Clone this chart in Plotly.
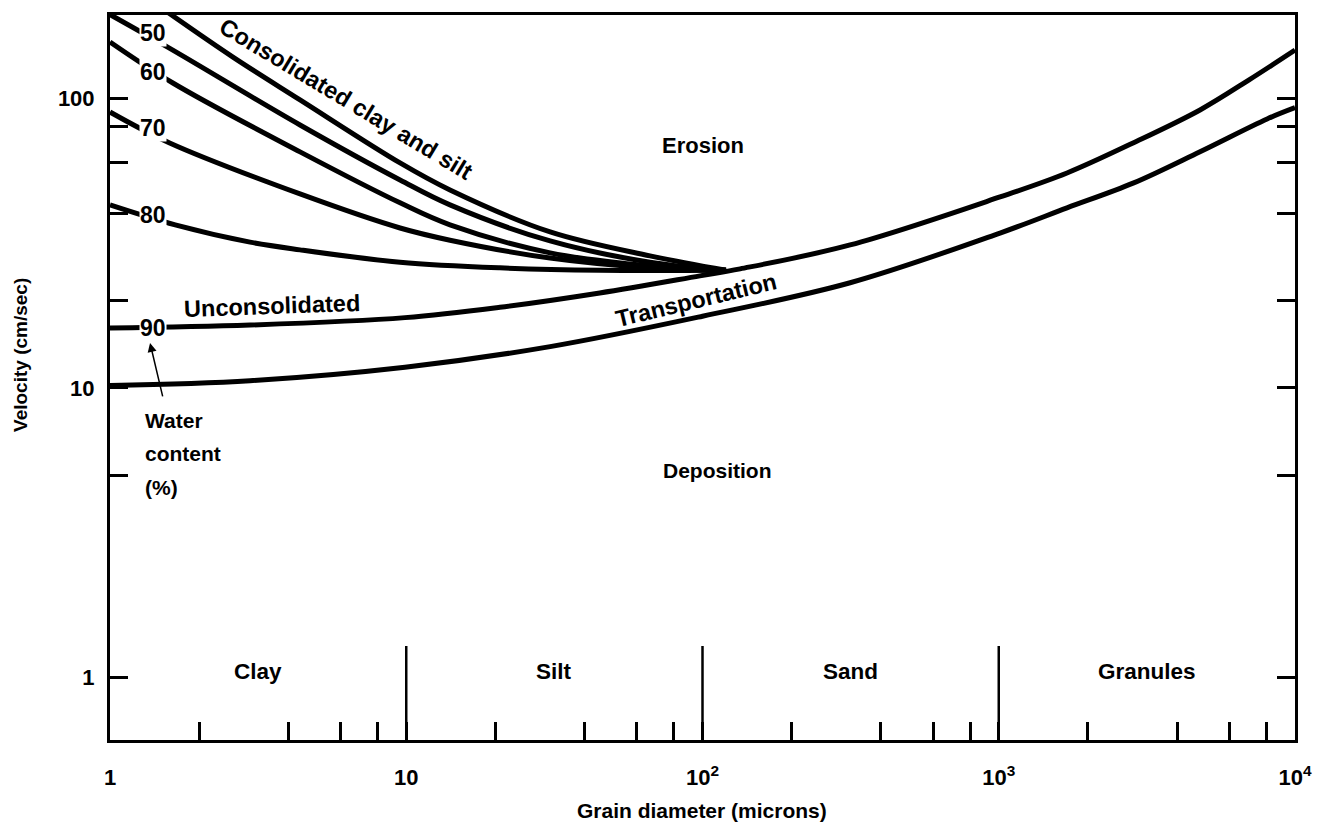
import numpy as np
import plotly.graph_objects as go

# ---------------- data (grain diameter in microns, velocity in cm/sec) ----------------
dep_x = [1, 2.97, 9.9, 30.6, 100, 315, 1010, 1700, 2840, 4780, 8050, 10000]
dep_v = [10.2, 10.6, 11.8, 13.9, 17.7, 23.1, 34.3, 41.9, 51.0, 65.5, 85.0, 93.0]

unc_x = [1, 2.97, 9.9, 20.7, 45, 98, 134, 315, 1010, 1700, 2840, 4780, 7000, 10000]
unc_v = [16.1, 16.5, 17.5, 19.0, 21.3, 24.4, 25.8, 31.2, 45.7, 55.3, 70.2, 91.3, 116, 147]

w80_x = [1, 1.66, 2.97, 4.38, 9.53, 20.7, 45, 120]
w80_v = [42.9, 36.6, 31.9, 30.0, 27.2, 26.0, 25.5, 25.5]

w70_x = [1, 1.59, 4.38, 9.53, 14.05, 30.6, 66.5, 120]
w70_v = [89.8, 70.2, 46.8, 35.7, 32.4, 28.1, 26.0, 25.5]

w60_x = [1, 1.63, 4.38, 9.53, 14.05, 30.6, 66.5, 120]
w60_v = [156.7, 113.1, 65.4, 43.6, 36.6, 29.3, 26.4, 25.5]

w50_x = [1, 1.56, 4.38, 9.53, 14.05, 30.6, 66.5, 120]
w50_v = [195, 150.7, 81.0, 52.3, 42.9, 32.2, 27.2, 25.5]

cons_x = [1.55, 2.6, 4.38, 9.53, 14.05, 30.6, 66.5, 120]
cons_v = [200, 139, 98.9, 59.9, 48.3, 34.6, 28.6, 25.5]

water_labels = ["50", "60", "70", "80", "90"]
water_label_v = [168, 123.5, 79, 39.6, 16.1]

class_edges = [1, 10, 100, 1000, 10000]
class_names = ["Clay", "Silt", "Sand", "Granules"]

x_major_vals = [1, 10, 100, 1000, 10000]
x_major_text = ["1", "10", "10<sup>2</sup>", "10<sup>3</sup>", "10<sup>4</sup>"]
x_minor_vals = [2, 4, 6, 8, 20, 40, 60, 80, 200, 400, 600, 800, 2000, 4000, 6000, 8000]
y_major_vals = [1, 10, 100]
y_major_text = ["1", "10", "100"]
y_minor_vals = [5, 20, 40, 60, 80]

# ---------------- figure ----------------
Y_LOG_RANGE = [-0.2159, 2.2884]
FONT = "Liberation Sans"
LW = 5


def f(size):
    return dict(size=size, family=FONT, color="black", weight="bold")


fig = go.Figure()
for xs, vs in [(dep_x, dep_v), (unc_x, unc_v), (w80_x, w80_v), (w70_x, w70_v),
               (w60_x, w60_v), (w50_x, w50_v), (cons_x, cons_v)]:
    fig.add_trace(go.Scatter(x=xs, y=vs, mode="lines",
                             line=dict(color="black", width=LW, shape="spline", smoothing=1.0),
                             showlegend=False, hoverinfo="skip"))

# grain-size class boundaries
y_bottom = 10 ** Y_LOG_RANGE[0]
for b in class_edges[1:-1]:
    fig.add_trace(go.Scatter(x=[b, b], y=[y_bottom, 1.285], mode="lines",
                             line=dict(color="black", width=2.5),
                             showlegend=False, hoverinfo="skip"))

L = np.log10
ann = []
# class labels (geometric centres)
for i, name in enumerate(class_names):
    xc = (L(class_edges[i]) + L(class_edges[i + 1])) / 2
    ann.append(dict(x=xc, y=L(1.045), text=name, showarrow=False, font=f(22.5)))

# water content labels
for t, v in zip(water_labels, water_label_v):
    ann.append(dict(x=L(1.40), y=L(v), text=t, showarrow=False, bgcolor="white",
                    borderpad=0, font=f(23)))

ann += [
    dict(x=L(100), y=L(69), text="Erosion", showarrow=False, font=f(22)),
    dict(x=L(112), y=L(5.17), text="Deposition", showarrow=False, font=f(21)),
    dict(x=L(95.8), y=L(20.1), text="Transportation", showarrow=False, textangle=-13.5,
         font=f(23.5)),
    dict(x=L(3.52), y=L(19.2), text="Unconsolidated", showarrow=False, textangle=-2,
         font=f(23.5)),
    dict(x=L(6.25), y=L(99.5), text="Consolidated clay and silt", showarrow=False,
         textangle=31, font=f(23.5)),
    dict(x=L(1.29), y=L(7.75), text="Water", showarrow=False, xanchor="left", font=f(21)),
    dict(x=L(1.29), y=L(5.96), text="content", showarrow=False, xanchor="left", font=f(21)),
    dict(x=L(1.29), y=L(4.55), text="(%)", showarrow=False, xanchor="left", font=f(21)),
    dict(x=L(1.365), y=L(14.3), ax=L(1.51), ay=L(9.24), axref="x", ayref="y",
         text="", showarrow=True, arrowhead=2, arrowsize=1.2, arrowwidth=1.5,
         arrowcolor="black"),
    # axis titles
    dict(xref="paper", yref="paper", x=0.4996, y=-0.0966, xanchor="center", yanchor="middle",
         text="Grain diameter (microns)", showarrow=False, font=f(21)),
    dict(xref="paper", yref="paper", x=-0.076, y=0.531, xanchor="center", yanchor="middle",
         text="Velocity (cm/sec)", textangle=-90, showarrow=False, font=f(19)),
]

tick_common = dict(ticks="inside", ticklen=18, tickwidth=2.5, tickcolor="black",
                   showgrid=False, zeroline=False, showline=True, linecolor="black",
                   linewidth=3)

fig.update_layout(
    width=1327, height=826,
    margin=dict(l=110, r=32, t=15, b=86),
    paper_bgcolor="white", plot_bgcolor="white",
    annotations=ann,
    font=dict(family=FONT, color="black"),
    xaxis=dict(type="log", range=[0, 4], mirror=True,
               tickmode="array", tickvals=x_major_vals, ticktext=x_major_text,
               ticklabelstandoff=16, tickfont=f(22),
               minor=dict(tickmode="array", tickvals=x_minor_vals, ticks="inside",
                          ticklen=18, tickwidth=2.5, tickcolor="black", showgrid=False),
               **tick_common),
    yaxis=dict(type="log", range=Y_LOG_RANGE, mirror="ticks",
               tickmode="array", tickvals=y_major_vals, ticktext=y_major_text,
               ticklabelstandoff=8, tickfont=f(22),
               minor=dict(tickmode="array", tickvals=y_minor_vals, ticks="inside",
                          ticklen=18, tickwidth=2.5, tickcolor="black", showgrid=False),
               **tick_common),
)

fig.write_html("out.html")
